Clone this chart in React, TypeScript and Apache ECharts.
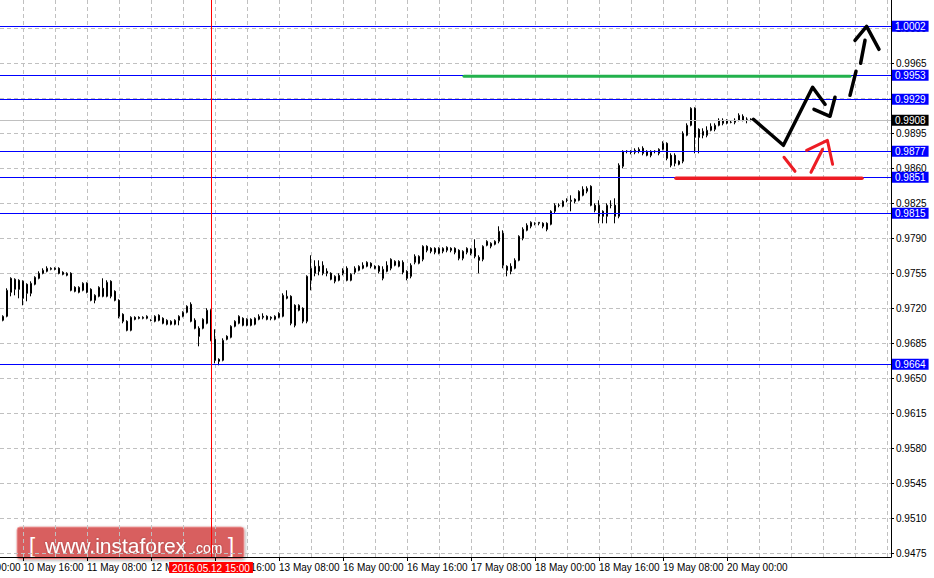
import React, { useEffect, useRef } from "react";
import * as echarts from "echarts";

const FONT = "'Liberation Sans', Arial, sans-serif";

// Hourly slots: 10 May 00:00 ... (weekend skipped), last real bar 20 May 06:00
const dayLabels = ["10 May", "11 May", "12 May", "13 May", "16 May", "17 May", "18 May", "19 May", "20 May", "23 May"];
const slotCount = 234;
const firstBar = 10;
const xMin = 10.25; // left edge of the visible window, in hour slots
const xMax = 233;

const opens = [
  0.9710, 0.9708, 0.9712, 0.9736, 0.9739, 0.9748, 0.9747, 0.9744, 0.9735, 0.9744,
  0.9750, 0.9755, 0.9757, 0.9759, 0.9760, 0.9760, 0.9756, 0.9753, 0.9755, 0.9741,
  0.9736, 0.9738, 0.9745, 0.9739, 0.9728, 0.9732, 0.9740, 0.9732, 0.9747, 0.9737,
  0.9728, 0.9714, 0.9707, 0.9698, 0.9711, 0.9711, 0.9710, 0.9710, 0.9708, 0.9707,
  0.9713, 0.9710, 0.9704, 0.9704, 0.9704, 0.9708, 0.9712, 0.9716, 0.9724, 0.9708,
  0.9700, 0.9700, 0.9705, 0.9718, 0.9689, 0.9669, 0.9668, 0.9692, 0.9691, 0.9702,
  0.9705, 0.9710, 0.9703, 0.9709, 0.9704, 0.9709, 0.9712, 0.9712, 0.9711, 0.9709,
  0.9711, 0.9712, 0.9730, 0.9732, 0.9723, 0.9718, 0.9720, 0.9707, 0.9748, 0.9755,
  0.9762, 0.9755, 0.9757, 0.9755, 0.9747, 0.9748, 0.9755, 0.9760, 0.9748, 0.9756,
  0.9758, 0.9760, 0.9762, 0.9765, 0.9762, 0.9762, 0.9750, 0.9757, 0.9760, 0.9763,
  0.9762, 0.9766, 0.9757, 0.9752, 0.9766, 0.9765, 0.9769, 0.9782, 0.9780, 0.9780,
  0.9775, 0.9777, 0.9778, 0.9780, 0.9780, 0.9778, 0.9770, 0.9776, 0.9779, 0.9780,
  0.9771, 0.9769, 0.9783, 0.9782, 0.9784, 0.9787, 0.9795, 0.9762, 0.9762, 0.9760,
  0.9768, 0.9790, 0.9798, 0.9802, 0.9805, 0.9805, 0.9805, 0.9805, 0.9804, 0.9817,
  0.9823, 0.9822, 0.9828, 0.9827, 0.9829, 0.9828, 0.9833, 0.9837, 0.9842, 0.9823,
  0.9823, 0.9817, 0.9812, 0.9823, 0.9823, 0.9812, 0.9862, 0.9877, 0.9877, 0.9876,
  0.9877, 0.9880, 0.9877, 0.9877, 0.9877, 0.9875, 0.9879, 0.9885, 0.9873, 0.9873,
  0.9867, 0.9867, 0.9893, 0.9903, 0.9920, 0.9899, 0.9893, 0.9893, 0.9898, 0.9899,
  0.9903, 0.9908, 0.9905, 0.9906, 0.9906, 0.9908, 0.9912, 0.9909, 0.9909,
];

const closes = [
  0.9710, 0.9712, 0.9738, 0.9750, 0.9749, 0.9739, 0.9730, 0.9735, 0.9745, 0.9751,
  0.9755, 0.9758, 0.9760, 0.9760, 0.9759, 0.9755, 0.9754, 0.9755, 0.9738, 0.9737,
  0.9741, 0.9745, 0.9736, 0.9728, 0.9733, 0.9741, 0.9732, 0.9746, 0.9732, 0.9728,
  0.9712, 0.9707, 0.9698, 0.9711, 0.9709, 0.9710, 0.9711, 0.9712, 0.9708, 0.9712,
  0.9708, 0.9705, 0.9708, 0.9707, 0.9708, 0.9712, 0.9716, 0.9722, 0.9707, 0.9700,
  0.9692, 0.9709, 0.9718, 0.9688, 0.9668, 0.9667, 0.9688, 0.9689, 0.9702, 0.9707,
  0.9712, 0.9703, 0.9709, 0.9703, 0.9710, 0.9712, 0.9711, 0.9709, 0.9710, 0.9712,
  0.9715, 0.9733, 0.9732, 0.9705, 0.9703, 0.9723, 0.9707, 0.9752, 0.9760, 0.9762,
  0.9757, 0.9763, 0.9755, 0.9749, 0.9752, 0.9753, 0.9758, 0.9748, 0.9754, 0.9760,
  0.9762, 0.9763, 0.9766, 0.9762, 0.9760, 0.9757, 0.9759, 0.9763, 0.9769, 0.9767,
  0.9767, 0.9756, 0.9750, 0.9763, 0.9772, 0.9772, 0.9782, 0.9778, 0.9777, 0.9776,
  0.9780, 0.9780, 0.9781, 0.9778, 0.9776, 0.9770, 0.9777, 0.9780, 0.9775, 0.9772,
  0.9768, 0.9782, 0.9787, 0.9785, 0.9787, 0.9797, 0.9763, 0.9758, 0.9757, 0.9768,
  0.9792, 0.9799, 0.9803, 0.9806, 0.9805, 0.9806, 0.9802, 0.9799, 0.9817, 0.9823,
  0.9823, 0.9827, 0.9828, 0.9828, 0.9827, 0.9837, 0.9839, 0.9840, 0.9823, 0.9818,
  0.9812, 0.9812, 0.9823, 0.9823, 0.9812, 0.9863, 0.9877, 0.9877, 0.9876, 0.9878,
  0.9879, 0.9875, 0.9873, 0.9873, 0.9877, 0.9879, 0.9885, 0.9870, 0.9863, 0.9865,
  0.9864, 0.9895, 0.9903, 0.9920, 0.9891, 0.9891, 0.9897, 0.9898, 0.9902, 0.9903,
  0.9908, 0.9905, 0.9908, 0.9906, 0.9908, 0.9913, 0.9908, 0.9909, 0.9908,
];

const lows = [
  0.9708, 0.9707, 0.9711, 0.9732, 0.9733, 0.9730, 0.9723, 0.9727, 0.9732, 0.9743,
  0.9749, 0.9754, 0.9756, 0.9758, 0.9758, 0.9754, 0.9753, 0.9752, 0.9737, 0.9736,
  0.9735, 0.9737, 0.9735, 0.9727, 0.9725, 0.9731, 0.9731, 0.9731, 0.9730, 0.9727,
  0.9710, 0.9705, 0.9697, 0.9697, 0.9708, 0.9709, 0.9709, 0.9709, 0.9707, 0.9706,
  0.9707, 0.9704, 0.9703, 0.9703, 0.9703, 0.9703, 0.9711, 0.9715, 0.9706, 0.9699,
  0.9682, 0.9699, 0.9704, 0.9687, 0.9665, 0.9663, 0.9667, 0.9688, 0.9690, 0.9701,
  0.9704, 0.9702, 0.9702, 0.9702, 0.9703, 0.9708, 0.9709, 0.9708, 0.9708, 0.9708,
  0.9710, 0.9711, 0.9729, 0.9703, 0.9701, 0.9717, 0.9705, 0.9705, 0.9738, 0.9752,
  0.9753, 0.9753, 0.9752, 0.9748, 0.9745, 0.9747, 0.9753, 0.9747, 0.9747, 0.9754,
  0.9757, 0.9759, 0.9761, 0.9760, 0.9759, 0.9755, 0.9748, 0.9756, 0.9758, 0.9762,
  0.9761, 0.9754, 0.9748, 0.9750, 0.9764, 0.9764, 0.9767, 0.9776, 0.9775, 0.9774,
  0.9774, 0.9775, 0.9776, 0.9776, 0.9774, 0.9768, 0.9768, 0.9774, 0.9773, 0.9770,
  0.9755, 0.9767, 0.9782, 0.9780, 0.9783, 0.9785, 0.9760, 0.9752, 0.9754, 0.9759,
  0.9767, 0.9788, 0.9797, 0.9800, 0.9803, 0.9803, 0.9800, 0.9797, 0.9803, 0.9815,
  0.9821, 0.9821, 0.9826, 0.9817, 0.9825, 0.9827, 0.9832, 0.9835, 0.9822, 0.9816,
  0.9805, 0.9805, 0.9805, 0.9820, 0.9805, 0.9810, 0.9860, 0.9875, 0.9874, 0.9874,
  0.9875, 0.9873, 0.9872, 0.9871, 0.9875, 0.9873, 0.9878, 0.9868, 0.9861, 0.9862,
  0.9863, 0.9865, 0.9892, 0.9902, 0.9875, 0.9875, 0.9890, 0.9891, 0.9897, 0.9897,
  0.9902, 0.9903, 0.9904, 0.9905, 0.9904, 0.9907, 0.9907, 0.9905, 0.9907,
];

const highs = [
  0.9712, 0.9713, 0.9740, 0.9751, 0.9750, 0.9749, 0.9748, 0.9745, 0.9747, 0.9752,
  0.9757, 0.9760, 0.9762, 0.9761, 0.9761, 0.9761, 0.9757, 0.9756, 0.9756, 0.9742,
  0.9742, 0.9746, 0.9746, 0.9740, 0.9734, 0.9742, 0.9750, 0.9748, 0.9748, 0.9738,
  0.9729, 0.9715, 0.9708, 0.9712, 0.9712, 0.9712, 0.9712, 0.9713, 0.9709, 0.9713,
  0.9714, 0.9711, 0.9709, 0.9708, 0.9709, 0.9713, 0.9717, 0.9723, 0.9726, 0.9710,
  0.9702, 0.9710, 0.9720, 0.9719, 0.9699, 0.9670, 0.9690, 0.9693, 0.9703, 0.9708,
  0.9713, 0.9711, 0.9710, 0.9710, 0.9711, 0.9714, 0.9715, 0.9713, 0.9712, 0.9713,
  0.9716, 0.9735, 0.9738, 0.9733, 0.9724, 0.9724, 0.9721, 0.9753, 0.9773, 0.9768,
  0.9768, 0.9767, 0.9760, 0.9756, 0.9753, 0.9755, 0.9760, 0.9762, 0.9755, 0.9762,
  0.9763, 0.9766, 0.9767, 0.9766, 0.9763, 0.9763, 0.9762, 0.9767, 0.9770, 0.9768,
  0.9768, 0.9768, 0.9758, 0.9765, 0.9774, 0.9773, 0.9783, 0.9783, 0.9781, 0.9781,
  0.9781, 0.9781, 0.9782, 0.9781, 0.9781, 0.9779, 0.9778, 0.9781, 0.9780, 0.9789,
  0.9773, 0.9783, 0.9788, 0.9786, 0.9788, 0.9802, 0.9798, 0.9763, 0.9765, 0.9770,
  0.9793, 0.9801, 0.9805, 0.9807, 0.9806, 0.9806, 0.9806, 0.9806, 0.9818, 0.9825,
  0.9825, 0.9828, 0.9830, 0.9833, 0.9830, 0.9838, 0.9842, 0.9842, 0.9843, 0.9825,
  0.9828, 0.9818, 0.9825, 0.9828, 0.9830, 0.9865, 0.9878, 0.9878, 0.9878, 0.9880,
  0.9881, 0.9882, 0.9878, 0.9878, 0.9878, 0.9880, 0.9887, 0.9886, 0.9875, 0.9875,
  0.9868, 0.9897, 0.9905, 0.9921, 0.9921, 0.9900, 0.9900, 0.9902, 0.9905, 0.9905,
  0.9910, 0.9910, 0.9909, 0.9908, 0.9910, 0.9915, 0.9914, 0.9911, 0.9910,
];

const yTicks = [
  0.9475, 0.9510, 0.9545, 0.9580, 0.9615, 0.9650, 0.9685, 0.9720,
  0.9755, 0.9790, 0.9825, 0.9860, 0.9895, 0.9930, 0.9965, 1.0000,
];
const yMin = 0.94713;
const yMax = 1.00283;

// time-axis label slots (every 16 h) and grid slots (every 8 h)
const xLabelSlots = [16, 32, 48, 64, 80, 96, 112, 128, 144, 160, 176, 192];
const xGridSlots = [
  16, 24, 32, 40, 48, 56, 64, 72, 80, 88, 96, 104, 112, 120, 128, 136, 144, 152,
  160, 168, 176, 184, 192, 200, 208, 216, 224, 232,
];

const blueLevels = [1.0002, 0.9953, 0.9929, 0.9877, 0.9851, 0.9815, 0.9664];
const currentPrice = 0.9908;
const crosshairSlot = 63;
const crosshairText = "2016.05.12 15:00";

// hand-drawn forecast marks, in (hour slot, price)
const greenLevel = [[126.25, 0.9952], [222.75, 0.9952]];
const redLevel = [[179.25, 0.9850], [225.75, 0.9850]];
const blackPath = [[198.6, 0.9909], [206.1, 0.9883], [213.4, 0.9941], [216.5, 0.9924]];
const blackHead = [[213.75, 0.9919], [217.75, 0.9912], [219.0, 0.9931]];
const blackDashA = [[222.75, 0.9933], [224.25, 0.9957]];
const blackDashB = [[225.4, 0.9965], [226.5, 0.9988]];
const blackDashHead = [[224.0, 0.9988], [226.9, 1.0002], [230.0, 0.9979]];
const redSegA = [[206.25, 0.9871], [209.0, 0.9857]];
const redSegB = [[213.0, 0.9856], [215.9, 0.9879]];
const redHead = [[211.9, 0.9878], [217.1, 0.9888], [218.4, 0.9864]];

const categories: string[] = [];
for (let i = 0; i < slotCount; i++) {
  const d = dayLabels[Math.floor(i / 24)];
  const h = i % 24;
  categories.push(`${d} ${h < 10 ? "0" + h : h}:00`);
}

export default function App() {
  const ref = useRef<HTMLDivElement>(null);
  useEffect(() => {
    if (!ref.current) return;
    const chart = echarts.init(ref.current, undefined, { renderer: "svg" });

    const candles = opens.map((o, k) => [firstBar + k, o, closes[k], lows[k], highs[k]]);

    const levelLabel = (bg: string) => ({
      show: true,
      position: "end",
      distance: 1,
      formatter: (p: any) => Number(p.value).toFixed(4),
      backgroundColor: bg,
      color: "#ffffff",
      fontSize: 10,
      fontFamily: FONT,
      padding: [1, 3, 0, 3],
      lineHeight: 10,
    });

    const markData: any[] = blueLevels.map((v) => ({
      yAxis: v,
      lineStyle: { color: "#0000ff", width: 1, type: "solid" },
      label: levelLabel("#0000ff"),
    }));
    markData.unshift({
      yAxis: currentPrice,
      lineStyle: { color: "#c0c0c0", width: 1, type: "solid" },
      label: levelLabel("#000000"),
    });
    markData.push({
      xAxis: crosshairSlot,
      lineStyle: { color: "#ff0000", width: 1, type: "solid" },
      label: {
        show: true,
        position: "start",
        distance: 5,
        formatter: crosshairText,
        backgroundColor: "#ff0000",
        color: "#ffffff",
        fontSize: 10,
        fontFamily: FONT,
        padding: [1, 3, 0, 3],
        lineHeight: 10,
      },
    });

    const seg = (data: number[][], color: string, width: number) => ({
      type: "line",
      xAxisIndex: 0,
      yAxisIndex: 0,
      data,
      symbol: "none",
      silent: true,
      z: 6,
      lineStyle: { color, width, cap: "round", join: "round" },
    });

    chart.setOption({
      animation: false,
      backgroundColor: "#ffffff",
      grid: { left: 0, right: 43, top: 0, bottom: 21, containLabel: false },
      xAxis: [
        {
          type: "value",
          min: xMin,
          max: xMax,
          axisLine: { show: true, onZero: false, lineStyle: { color: "#000000", width: 1 } },
          axisTick: { show: true, length: 4, customValues: xLabelSlots, lineStyle: { color: "#000000" } },
          axisLabel: {
            customValues: xLabelSlots,
            formatter: (v: number) => categories[Math.round(v)],
            align: "left",
            color: "#000000",
            fontSize: 10,
            fontFamily: FONT,
            margin: 5,
          },
          splitLine: { show: false },
        },
        {
          type: "value",
          min: xMin,
          max: xMax,
          position: "bottom",
          axisLine: { show: false },
          axisTick: { show: false, customValues: xGridSlots },
          axisLabel: { show: false },
          splitLine: { show: true, lineStyle: { color: "#c0c0c0", width: 1, type: [4, 3] } },
        },
      ],
      yAxis: {
        type: "value",
        position: "right",
        min: yMin,
        max: yMax,
        axisLine: { show: true, lineStyle: { color: "#000000", width: 1 } },
        axisTick: { show: true, length: 3, customValues: yTicks, lineStyle: { color: "#000000" } },
        axisLabel: {
          customValues: yTicks,
          formatter: (v: number) => v.toFixed(4),
          color: "#000000",
          fontSize: 10,
          fontFamily: FONT,
          margin: 5,
        },
        splitLine: { show: true, lineStyle: { color: "#c0c0c0", width: 1, type: [4, 3] } },
      },
      series: [
        {
          type: "candlestick",
          xAxisIndex: 0,
          yAxisIndex: 0,
          data: candles,
          encode: { x: 0, y: [1, 2, 3, 4] },
          barWidth: 2,
          z: 3,
          itemStyle: {
            color: "#ffffff",
            color0: "#000000",
            borderColor: "#000000",
            borderColor0: "#000000",
            borderColorDoji: "#000000",
            borderWidth: 1,
          },
          markLine: {
            silent: true,
            symbol: ["none", "none"],
            precision: 4,
            animation: false,
            data: markData,
          },
        },
        seg(greenLevel, "#22b14c", 3),
        seg(redLevel, "#ed1c24", 3.5),
        seg(blackPath, "#000000", 3.5),
        seg(blackHead, "#000000", 3.5),
        seg(blackDashA, "#000000", 3.5),
        seg(blackDashB, "#000000", 3.5),
        seg(blackDashHead, "#000000", 3.5),
        seg(redSegA, "#ed1c24", 3),
        seg(redSegB, "#ed1c24", 3),
        seg(redHead, "#ed1c24", 3),
      ],
      graphic: [
        {
          // the partly visible first time label, left of the window
          type: "text",
          x: -40,
          y: 562,
          z: 50,
          style: { text: categories[0], fill: "#000000", fontSize: 10, fontFamily: FONT, verticalAlign: "top", align: "left" },
        },
        {
          type: "group",
          z: 100,
          children: [
            {
              type: "rect",
              shape: { x: 17, y: 527, width: 227, height: 32, r: 3 },
              style: {
                fill: "rgba(216, 72, 72, 0.82)",
                stroke: "rgba(240, 160, 160, 0.9)",
                lineWidth: 1,
                shadowBlur: 3,
                shadowColor: "rgba(0,0,0,0.35)",
                shadowOffsetX: 1,
                shadowOffsetY: 1,
              },
            },
            {
              type: "text",
              x: 29,
              y: 545,
              style: { text: "[", fill: "#ffffff", fontSize: 22, fontFamily: FONT, verticalAlign: "middle", align: "left" },
            },
            {
              type: "text",
              x: 45,
              y: 545.5,
              style: {
                text: "www.instaforex",
                fill: "#ffffff",
                fontSize: 21,
                fontFamily: FONT,
                verticalAlign: "middle",
                align: "left",
                textShadowColor: "rgba(0,0,0,0.3)",
                textShadowBlur: 2,
              },
            },
            {
              type: "text",
              x: 192,
              y: 548,
              style: {
                text: ".com",
                fill: "#ffffff",
                fontSize: 14,
                fontFamily: FONT,
                verticalAlign: "middle",
                align: "left",
                textShadowColor: "rgba(0,0,0,0.3)",
                textShadowBlur: 2,
              },
            },
            {
              type: "text",
              x: 228,
              y: 545,
              style: { text: "]", fill: "#ffffff", fontSize: 22, fontFamily: FONT, verticalAlign: "middle", align: "left" },
            },
          ],
        },
      ],
    });

    return () => chart.dispose();
  }, []);

  return (
    <div
      ref={ref}
      style={{ position: "fixed", left: 0, top: 0, width: 934, height: 578, background: "#ffffff" }}
    />
  );
}
